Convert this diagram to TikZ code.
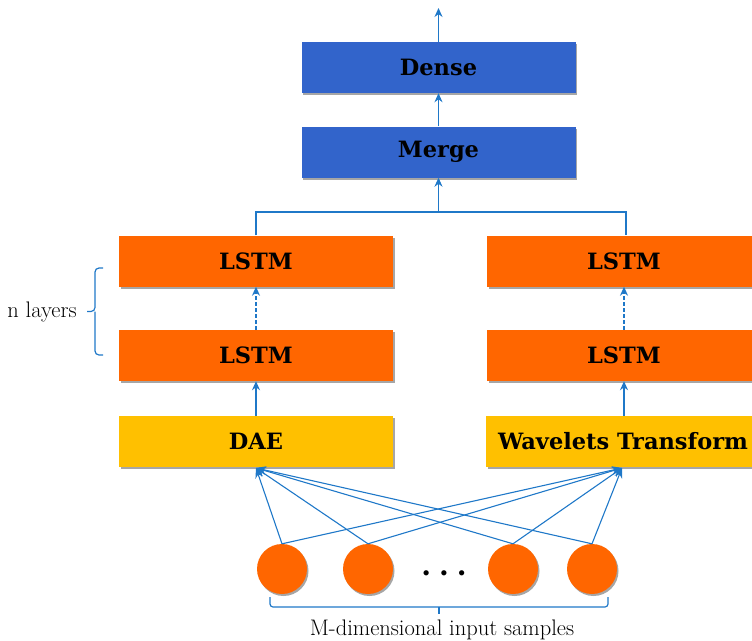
\documentclass[tikz,border=0pt]{standalone}
\usepackage{fontspec}
\newfontfamily\boxfont{DejaVu Serif}
\usetikzlibrary{shadows,arrows.meta}
\definecolor{boxblue}{HTML}{3264CB}
\definecolor{boxorange}{HTML}{FF6600}
\definecolor{boxyellow}{HTML}{FFC000}
\definecolor{linkblue}{HTML}{1F78C8}
\tikzset{
  layer/.style={minimum width=274pt, minimum height=51pt, inner sep=0pt,
    font=\boxfont\fontsize{22.5}{26}\selectfont\bfseries,
    drop shadow={shadow xshift=1.5pt, shadow yshift=-2pt, opacity=0.35, fill=black}},
  bluebox/.style={layer, fill=boxblue},
  orangebox/.style={layer, fill=boxorange},
  yellowbox/.style={layer, fill=boxyellow},
  inputnode/.style={circle, minimum size=50pt, inner sep=0pt, fill=boxorange,
    drop shadow={shadow xshift=1.5pt, shadow yshift=-2pt, opacity=0.35, fill=black}},
  link/.style={draw=linkblue, line width=1.3pt, -{Stealth[length=9pt,width=8pt]}},
  fan/.style={draw=linkblue, line width=1.1pt, -{Stealth[length=10pt,width=8pt]}},
  plain/.style={draw=linkblue, line width=1.2pt},
  labeltext/.style={font=\fontsize{22.5}{26}\selectfont}
}
\begin{document}
\begin{tikzpicture}[x=1pt,y=-1pt]
\useasboundingbox (0,0) rectangle (752,640);
\begin{scope}
\clip (0,0) rectangle (752,640);
% boxes
\node[bluebox] (dense) at (438.5,67.5) {Dense};
\node[bluebox] (merge) at (438.5,152) {Merge};
\node[orangebox] (lstmL2) at (256,261) {LSTM};
\node[orangebox] (lstmL1) at (256,355.5) {LSTM};
\node[yellowbox] (dae) at (256,441.5) {DAE};
\node[orangebox] (lstmR2) at (624,261) {LSTM};
\node[orangebox] (lstmR1) at (624,355.5) {LSTM};
\node[yellowbox] (wt) at (623,441.5) {Wavelets Transform};
% inputs
\node[inputnode] (in1) at (282,569) {};
\node[inputnode] (in2) at (368,569) {};
\node[inputnode] (in3) at (513,569) {};
\node[inputnode] (in4) at (592,569) {};
\node[font=\boxfont\fontsize{28}{30}\selectfont\bfseries] (dots) at (444,573) {.\hspace{8pt}.\hspace{8pt}.};
% coordinates
\coordinate (top) at (438.5,8);
\coordinate (join) at (438.5,212);
\coordinate (joinL) at (256,212);
\coordinate (joinR) at (626,212);
\coordinate (daeIn) at (256,468);
\coordinate (wtIn) at (622,468);
% connectors
\draw[link] (dense.north) -- (top);
\draw[link] (merge.north) -- (dense.south);
\draw[link] (join) -- (merge.south);
\draw[plain] (lstmL2.north) -- (joinL) -- (joinR) -- (lstmR2.north -| joinR);
\draw[link, dash pattern=on 4pt off 2pt] (lstmL1.north) -- (lstmL2.south);
\draw[link, dash pattern=on 4pt off 2pt] (lstmR1.north) -- (lstmR2.south);
\draw[link] (dae.north) -- (lstmL1.south);
\draw[link] (lstmR1.south |- wt.north) -- (lstmR1.south);
\foreach \n in {in1,in2,in3,in4}{
  \draw[fan] (\n.north) -- (daeIn);
  \draw[fan] (\n.north) -- (wtIn);
}
% braces
\coordinate (bL) at (103,268);
\coordinate (bL2) at (103,355);
\coordinate (bTip) at (87,311.5);
\draw[plain, rounded corners=4pt] (bL) -- (95,268) -- (95,311.5) -- (bTip);
\draw[plain, rounded corners=4pt] (bL2) -- (95,355) -- (95,311.5);
\node[labeltext] (nl) at (42,312) {n layers};
\coordinate (cL) at (270,597);
\coordinate (cR) at (608,597);
\coordinate (cTip) at (439,614);
\draw[plain, rounded corners=3pt] (cL) -- (270,607) -- (608,607) -- (cR);
\draw[plain] (439,607) -- (cTip);
\node[labeltext] (ml) at (442,630) {M-dimensional input samples};
\end{scope}
\end{tikzpicture}
\end{document}
